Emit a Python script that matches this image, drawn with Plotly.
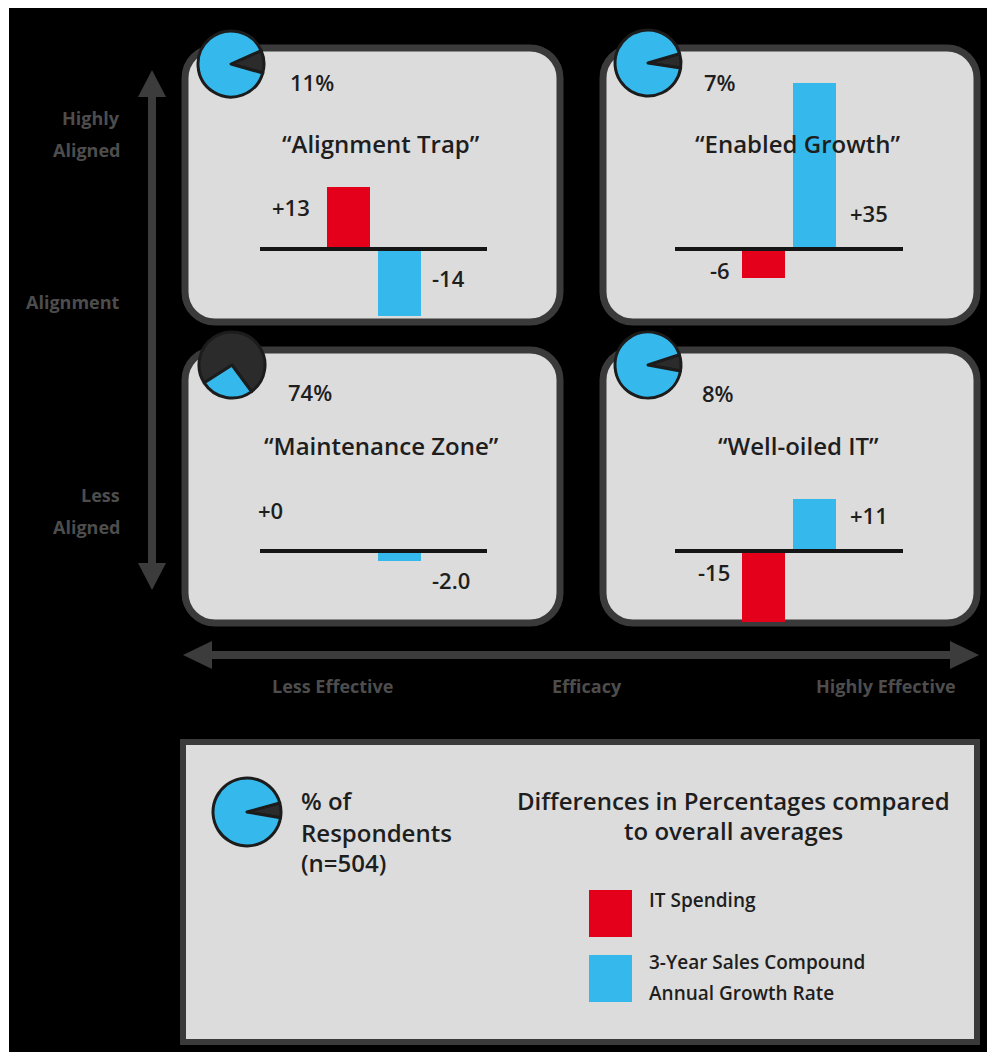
import plotly.graph_objects as go

W, H = 987, 1052

# ---------------- data ----------------
quadrant_names = ["“Alignment Trap”", "“Enabled Growth”", "“Maintenance Zone”", "“Well-oiled IT”"]
respondent_pct = [11, 7, 74, 8]
it_spending = [13, -6, 0, -15]
sales_cagr = [-14, 35, -2.0, 11]
bar_categories = ["IT Spending", "3-Year Sales CAGR"]
legend_icon_pct = 7
legend_pie_lines = ["% of", "Respondents", "(n=504)"]
legend_title_lines = ["Differences in Percentages compared", "to overall averages"]
legend_item_lines = [["IT Spending"], ["3-Year Sales Compound", "Annual Growth Rate"]]
y_axis_labels = [["Highly", "Aligned"], ["Alignment"], ["Less", "Aligned"]]
x_axis_labels = ["Less Effective", "Efficacy", "Highly Effective"]

# ---------------- style / layout ----------------
RED = "#e4001b"
BLUE = "#35b9ec"
DARK = "#2b2b2b"
BOX_FILL = "#dcdcdc"
BOX_LINE = "#3a3a3a"
TXT = "#1e1e1e"
AXIS_GRAY = "#4d4d4d"
FONT = "Open Sans"
WT = 600

boxes = [(185, 48, 560, 322), (603, 48, 977, 322), (185, 350, 560, 623), (603, 350, 977, 623)]
pie_centers = [(231, 64), (648, 63), (232, 365), (648, 365)]
pie_r = 33
pie_dark_center = [86, 86, 10.5, 86]  # clock angle of the dark slice centre
pct_pos = [(312, 82), (720, 82), (310, 392), (718, 393)]
title_pos = [(381, 143), (797, 143), (381, 445), (798, 445)]
base_x = [(260, 487), (675, 903), (260, 487), (675, 903)]
base_y = [249, 249, 551, 551]
red_lbl = [(312, 207), (732, 270), (285, 510), (732, 572)]   # right anchored
blue_lbl = [(430, 278), (848, 213), (430, 580), (848, 515)]  # left anchored
PX_PER_UNIT = 4.75
PX_PER_CAT = 51.5
BAR_PX = 43
RED_CENTER_OFF = 88


def fx(x):
    return x / W


def fy(y):
    return 1 - y / H


def rrect(x0, y0, x1, y1, r):
    k = 0.552 * r
    return (f"M{x0 + r},{y0} L{x1 - r},{y0} C{x1 - r + k},{y0} {x1},{y0 + r - k} {x1},{y0 + r} "
            f"L{x1},{y1 - r} C{x1},{y1 - r + k} {x1 - r + k},{y1} {x1 - r},{y1} "
            f"L{x0 + r},{y1} C{x0 + r - k},{y1} {x0},{y1 - r + k} {x0},{y1 - r} "
            f"L{x0},{y0 + r} C{x0},{y0 + r - k} {x0 + r - k},{y0} {x0 + r},{y0} Z")


fig = go.Figure()
shapes = []
annotations = []

# invisible pixel canvas axis
fig.add_trace(go.Scatter(x=[0, W], y=[0, H], mode="markers", marker=dict(opacity=0),
                         hoverinfo="skip", showlegend=False, xaxis="x", yaxis="y"))

# black background
shapes.append(dict(type="rect", xref="x", yref="y", x0=9, y0=8, x1=W + 5, y1=H + 5,
                   fillcolor="black", line=dict(width=0), layer="below"))

# axes arrows
AR = "#3c3c3c"
shapes.append(dict(type="line", xref="x", yref="y", x0=152, y0=92, x1=152, y1=568,
                   line=dict(color=AR, width=8), layer="below"))
shapes.append(dict(type="path", xref="x", yref="y", path="M152,70 L166,97 L138,97 Z",
                   fillcolor=AR, line=dict(width=0), layer="below"))
shapes.append(dict(type="path", xref="x", yref="y", path="M152,590 L166,563 L138,563 Z",
                   fillcolor=AR, line=dict(width=0), layer="below"))
shapes.append(dict(type="line", xref="x", yref="y", x0=205, y0=655, x1=955, y1=655,
                   line=dict(color=AR, width=8), layer="below"))
shapes.append(dict(type="path", xref="x", yref="y", path="M183,655 L212,641 L212,669 Z",
                   fillcolor=AR, line=dict(width=0), layer="below"))
shapes.append(dict(type="path", xref="x", yref="y", path="M979,655 L950,641 L950,669 Z",
                   fillcolor=AR, line=dict(width=0), layer="below"))

# quadrant boxes
for (x0, y0, x1, y1) in boxes:
    shapes.append(dict(type="path", xref="x", yref="y", path=rrect(x0, y0, x1, y1, 30),
                       fillcolor=BOX_FILL, line=dict(color=BOX_LINE, width=7), layer="below"))

# legend box
shapes.append(dict(type="rect", xref="x", yref="y", x0=183, y0=742, x1=977, y1=1042,
                   fillcolor=BOX_FILL, line=dict(color=BOX_LINE, width=6), layer="below"))

# axis labels
ylab_pos = [[118, 150], [302], [495, 527]]
for lines, ys in zip(y_axis_labels, ylab_pos):
    for t, yy in zip(lines, ys):
        annotations.append(dict(x=122, y=yy, xref="x", yref="y", text=t, showarrow=False,
                                xanchor="right", yanchor="middle",
                                font=dict(family=FONT, size=18, color=AXIS_GRAY, weight="bold")))
xlab_pos = [332, 587, 886]
for t, xx in zip(x_axis_labels, xlab_pos):
    annotations.append(dict(x=xx, y=686, xref="x", yref="y", text=t, showarrow=False,
                            xanchor="center", yanchor="middle",
                            font=dict(family=FONT, size=18, color=AXIS_GRAY, weight="bold")))

# pies + bars per quadrant
for i in range(4):
    cx, cy = pie_centers[i]
    p = respondent_pct[i]
    fig.add_trace(go.Pie(values=[p, 100 - p], labels=["share", "rest"], sort=False,
                         direction="clockwise", rotation=pie_dark_center[i] - p * 1.8,
                         marker=dict(colors=[DARK, BLUE], line=dict(color="#1c1c1c", width=3)),
                         textinfo="none", hoverinfo="skip", showlegend=False,
                         domain=dict(x=[fx(cx - pie_r), fx(cx + pie_r)],
                                     y=[fy(cy + pie_r), fy(cy - pie_r)])))
    ax = i + 2
    bx0, bx1 = base_x[i]
    by = base_y[i]
    top_px, bot_px = by - 190, by + 100
    fig.add_trace(go.Bar(x=bar_categories, y=[it_spending[i], sales_cagr[i]],
                         marker=dict(color=[RED, BLUE], line=dict(width=0)),
                         width=BAR_PX / PX_PER_CAT, hoverinfo="skip", showlegend=False,
                         xaxis=f"x{ax}", yaxis=f"y{ax}"))
    lo = -RED_CENTER_OFF / PX_PER_CAT
    fig.update_layout(**{
        f"xaxis{ax}": dict(domain=[fx(bx0), fx(bx1)], range=[lo, lo + (bx1 - bx0) / PX_PER_CAT],
                           visible=False, fixedrange=True, anchor=f"y{ax}"),
        f"yaxis{ax}": dict(domain=[fy(bot_px), fy(top_px)],
                           range=[-(bot_px - by) / PX_PER_UNIT, (by - top_px) / PX_PER_UNIT],
                           visible=False, fixedrange=True, anchor=f"x{ax}"),
    })
    shapes.append(dict(type="line", xref=f"x{ax} domain", yref=f"y{ax}", x0=0, x1=1, y0=0, y1=0,
                       line=dict(color="#151515", width=4), layer="above"))
    # texts
    annotations.append(dict(x=pct_pos[i][0], y=pct_pos[i][1], xref="x", yref="y",
                            text=f"{p}%", showarrow=False, xanchor="center", yanchor="middle",
                            font=dict(family=FONT, size=22, color=TXT, weight=WT)))
    annotations.append(dict(x=title_pos[i][0], y=title_pos[i][1], xref="x", yref="y",
                            text=quadrant_names[i], showarrow=False, xanchor="center", yanchor="middle",
                            font=dict(family=FONT, size=24, color=TXT, weight=WT)))
    annotations.append(dict(x=red_lbl[i][0], y=red_lbl[i][1], xref="x", yref="y",
                            text=f"{it_spending[i]:+}", showarrow=False, xanchor="right", yanchor="middle",
                            font=dict(family=FONT, size=22, color=TXT, weight=WT)))
    annotations.append(dict(x=blue_lbl[i][0], y=blue_lbl[i][1], xref="x", yref="y",
                            text=f"{sales_cagr[i]:+}", showarrow=False, xanchor="left", yanchor="middle",
                            font=dict(family=FONT, size=22, color=TXT, weight=WT)))

# legend pie icon
lcx, lcy, lr = 247, 812, 34
fig.add_trace(go.Pie(values=[legend_icon_pct, 100 - legend_icon_pct], labels=["share", "rest"], sort=False,
                     direction="clockwise", rotation=87 - legend_icon_pct * 1.8,
                     marker=dict(colors=[DARK, BLUE], line=dict(color="#1c1c1c", width=3)),
                     textinfo="none", hoverinfo="skip", showlegend=False,
                     domain=dict(x=[fx(lcx - lr), fx(lcx + lr)], y=[fy(lcy + lr), fy(lcy - lr)])))

for t, yy in zip(legend_pie_lines, [800, 832, 862]):
    annotations.append(dict(x=299, y=yy, xref="x", yref="y", text=t, showarrow=False,
                            xanchor="left", yanchor="middle",
                            font=dict(family=FONT, size=24, color=TXT, weight=WT)))
for t, yy in zip(legend_title_lines, [800, 830]):
    annotations.append(dict(x=733, y=yy, xref="x", yref="y", text=t, showarrow=False,
                            xanchor="center", yanchor="middle",
                            font=dict(family=FONT, size=24, color=TXT, weight=WT)))

legend_colors = [RED, BLUE]
legend_sq = [(890, 937), (955, 1002)]
legend_text_y = [[900], [962, 993]]
for col, (sy0, sy1), lines, ys in zip(legend_colors, legend_sq, legend_item_lines, legend_text_y):
    shapes.append(dict(type="rect", xref="x", yref="y", x0=589, x1=632, y0=sy0, y1=sy1,
                       fillcolor=col, line=dict(width=0), layer="below"))
    for t, yy in zip(lines, ys):
        annotations.append(dict(x=647, y=yy, xref="x", yref="y", text=t, showarrow=False,
                                xanchor="left", yanchor="middle",
                                font=dict(family=FONT, size=19, color=TXT, weight=WT)))

fig.update_layout(
    width=W, height=H, margin=dict(l=0, r=0, t=0, b=0),
    paper_bgcolor="white", plot_bgcolor="rgba(0,0,0,0)",
    xaxis=dict(domain=[0, 1], range=[0, W], visible=False, fixedrange=True),
    yaxis=dict(domain=[0, 1], range=[H, 0], visible=False, fixedrange=True),
    shapes=shapes, annotations=annotations, showlegend=False,
    bargap=0,
)

fig.write_html("out.html")
